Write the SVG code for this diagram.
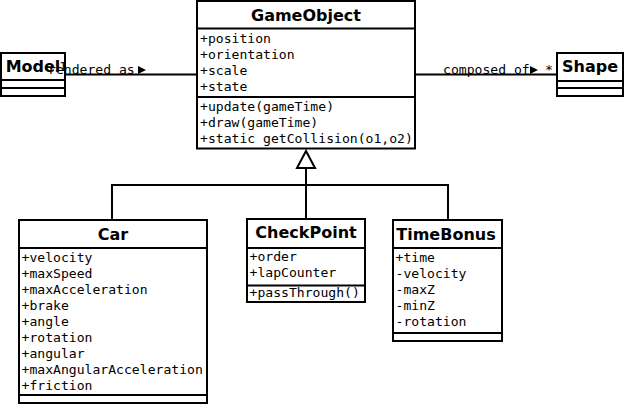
<svg xmlns="http://www.w3.org/2000/svg" width="624" height="405" viewBox="0 0 624 405">
<style>
.box{fill:#fff;stroke:#000;stroke-width:2}
.sep{stroke:#000;stroke-width:2}
.title{font-family:"DejaVu Sans",sans-serif;font-weight:bold;font-size:16px;text-anchor:middle;fill:#000}
.m{font-family:"DejaVu Sans Mono",monospace;font-size:13.1px;fill:#000}
.ln{fill:none;stroke:#000;stroke-width:2}
</style>
<rect width="624" height="405" fill="#fff"/>
<g id="Model">
<rect class="box" x="1" y="53" width="64" height="43"/>
<line class="sep" x1="1" y1="80" x2="65" y2="80"/>
<line class="sep" x1="1" y1="88" x2="65" y2="88"/>
<text class="title" x="33" y="71.5">Model</text>
</g>
<g id="Shape">
<rect class="box" x="557" y="53" width="66" height="43"/>
<line class="sep" x1="557" y1="81" x2="623" y2="81"/>
<line class="sep" x1="557" y1="88" x2="623" y2="88"/>
<text class="title" x="590" y="72">Shape</text>
</g>
<g id="GameObject">
<rect class="box" x="197" y="1" width="218" height="147.5"/>
<line class="sep" x1="197" y1="28.5" x2="415" y2="28.5"/>
<line class="sep" x1="197" y1="97" x2="415" y2="97"/>
<text class="title" x="306" y="20.5">GameObject</text>
<text class="m" x="200" y="43">+position</text>
<text class="m" x="200" y="59">+orientation</text>
<text class="m" x="200" y="75">+scale</text>
<text class="m" x="200" y="91">+state</text>
<text class="m" x="200" y="111">+update(gameTime)</text>
<text class="m" x="200" y="127">+draw(gameTime)</text>
<text class="m" x="200" y="143">+static getCollision(o1,o2)</text>
</g>
<g id="Car">
<rect class="box" x="19" y="220" width="188" height="183"/>
<line class="sep" x1="19" y1="248" x2="207" y2="248"/>
<line class="sep" x1="19" y1="395" x2="207" y2="395"/>
<text class="title" x="113" y="239.5">Car</text>
<text class="m" x="21.5" y="262">+velocity</text>
<text class="m" x="21.5" y="278">+maxSpeed</text>
<text class="m" x="21.5" y="294">+maxAcceleration</text>
<text class="m" x="21.5" y="310">+brake</text>
<text class="m" x="21.5" y="326">+angle</text>
<text class="m" x="21.5" y="342">+rotation</text>
<text class="m" x="21.5" y="358">+angular</text>
<text class="m" x="21.5" y="374">+maxAngularAcceleration</text>
<text class="m" x="21.5" y="390">+friction</text>
</g>
<g id="CheckPoint">
<rect class="box" x="247" y="219" width="118" height="83"/>
<line class="sep" x1="247" y1="248" x2="365" y2="248"/>
<line class="sep" x1="247" y1="285.5" x2="365" y2="285.5"/>
<text class="title" x="306" y="238">CheckPoint</text>
<text class="m" x="249.5" y="261">+order</text>
<text class="m" x="249.5" y="277">+lapCounter</text>
<text class="m" x="249.5" y="297">+passThrough()</text>
</g>
<g id="TimeBonus">
<rect class="box" x="393" y="220" width="109" height="121"/>
<line class="sep" x1="393" y1="248" x2="502" y2="248"/>
<line class="sep" x1="393" y1="333" x2="502" y2="333"/>
<text class="title" x="446" y="240">TimeBonus</text>
<text class="m" x="395.5" y="262">+time</text>
<text class="m" x="395.5" y="278">-velocity</text>
<text class="m" x="395.5" y="294">-maxZ</text>
<text class="m" x="395.5" y="310">-minZ</text>
<text class="m" x="395.5" y="326">-rotation</text>
</g>
<g id="connectors">
<line class="ln" x1="65" y1="74.5" x2="197" y2="74.5"/>
<line class="ln" x1="415" y1="74.5" x2="557" y2="74.5"/>
<polyline class="ln" points="112,220 112,185 448,185 448,220"/>
<line class="ln" x1="306" y1="168" x2="306" y2="219"/>
<polygon points="306,151 297,168 315,168" fill="#fff" stroke="#000" stroke-width="2"/>
<text class="m" x="48" y="74">rendered as</text>
<polygon points="138,66 146,70 138,74" fill="#000"/>
<text class="m" x="59" y="71">1</text>
<text class="m" x="443" y="74">composed of</text>
<polygon points="530,66 538,70 530,74" fill="#000"/>
<text class="m" x="545" y="74">*</text>
</g>
</svg>
